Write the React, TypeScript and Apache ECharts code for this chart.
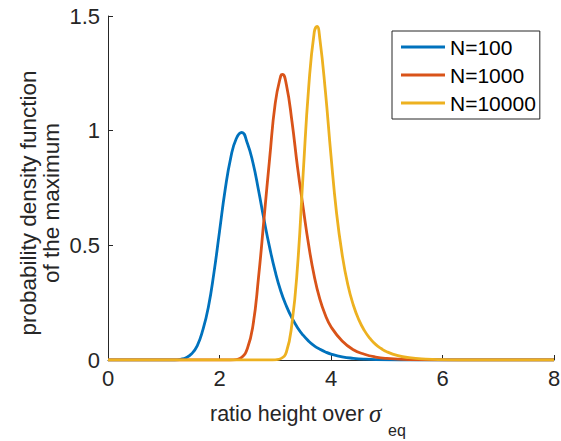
import React, { useEffect, useRef } from "react";
import * as echarts from "echarts";

// Ratio height / sigma_eq sample positions and pdf of the maximum, per N
const ratioN100 = [0, 1.2, 1.3, 1.4, 1.5, 1.6, 1.7, 1.8, 1.9, 2.0, 2.1, 2.2, 2.3, 2.4, 2.5, 2.6, 2.7, 2.8, 2.9, 3.0, 3.1, 3.2, 3.3, 3.4, 3.5, 3.6, 3.7, 3.8, 3.9, 4.0, 4.2, 4.4, 4.6, 5.0, 5.5, 8];
const pdfN100 = [0, 0, 0.003, 0.01, 0.027, 0.062, 0.13, 0.23, 0.38, 0.56, 0.74, 0.88, 0.965, 0.992, 0.945, 0.86, 0.74, 0.61, 0.49, 0.385, 0.3, 0.235, 0.183, 0.141, 0.108, 0.082, 0.062, 0.047, 0.035, 0.026, 0.014, 0.0075, 0.004, 0.001, 0, 0];

const ratioN1000 = [0, 2.2, 2.3, 2.4, 2.5, 2.6, 2.7, 2.8, 2.9, 3.0, 3.1, 3.13, 3.2, 3.3, 3.4, 3.5, 3.6, 3.7, 3.8, 3.9, 4.0, 4.2, 4.4, 4.6, 4.8, 5.0, 5.4, 6.0, 8];
const pdfN1000 = [0, 0, 0.002, 0.012, 0.05, 0.15, 0.36, 0.62, 0.88, 1.12, 1.24, 1.245, 1.2, 1.04, 0.84, 0.665, 0.5, 0.365, 0.265, 0.195, 0.145, 0.083, 0.045, 0.025, 0.013, 0.007, 0.002, 0, 0];

const ratioN10000 = [0, 2.9, 3.0, 3.1, 3.2, 3.3, 3.4, 3.5, 3.6, 3.7, 3.75, 3.8, 3.9, 4.0, 4.1, 4.2, 4.3, 4.4, 4.5, 4.6, 4.7, 4.8, 4.9, 5.0, 5.2, 5.4, 5.7, 6.0, 6.5, 8];
const pdfN10000 = [0, 0, 0.001, 0.006, 0.035, 0.16, 0.41, 0.81, 1.19, 1.43, 1.455, 1.4, 1.17, 0.89, 0.64, 0.46, 0.33, 0.24, 0.175, 0.128, 0.094, 0.068, 0.05, 0.036, 0.019, 0.01, 0.004, 0.0015, 0, 0];

const seriesNames = ["N=100", "N=1000", "N=10000"];
const seriesColors = ["#0072BD", "#D95319", "#EDB120"];

const FONT = "'Liberation Sans', Arial, Helvetica, sans-serif";
const AXIS_COLOR = "#262626";

const pairs = (xs: number[], ys: number[]) => xs.map((x, i) => [x, ys[i]]);

export default function App() {
  const ref = useRef<HTMLDivElement>(null);

  useEffect(() => {
    const chart = echarts.init(ref.current!, null, { renderer: "svg" });
    const curves = [
      pairs(ratioN100, pdfN100),
      pairs(ratioN1000, pdfN1000),
      pairs(ratioN10000, pdfN10000),
    ];
    chart.setOption({
      animation: false,
      backgroundColor: "#ffffff",
      grid: { left: 108, right: 7, top: 16, bottom: 81, containLabel: false, outerBoundsMode: "none" },
      xAxis: {
        type: "value",
        min: 0,
        max: 8,
        interval: 2,
        axisLine: { show: true, lineStyle: { color: AXIS_COLOR, width: 1 } },
        axisTick: { show: true, inside: true, length: 5, lineStyle: { color: AXIS_COLOR } },
        axisLabel: { color: AXIS_COLOR, fontSize: 22, fontFamily: FONT, margin: 7 },
        splitLine: { show: false },
      },
      yAxis: {
        type: "value",
        min: 0,
        max: 1.5,
        interval: 0.5,
        axisLine: { show: true, lineStyle: { color: AXIS_COLOR, width: 1 } },
        axisTick: { show: true, inside: true, length: 5, lineStyle: { color: AXIS_COLOR } },
        axisLabel: { color: AXIS_COLOR, fontSize: 22, fontFamily: FONT, margin: 8 },
        splitLine: { show: false },
      },
      legend: {
        orient: "vertical",
        left: 392,
        top: 31,
        padding: [5, 4, 5, 9],
        itemWidth: 44,
        itemHeight: 2.8,
        itemGap: 6,
        icon: "rect",
        borderColor: AXIS_COLOR,
        borderWidth: 1,
        backgroundColor: "#ffffff",
        data: seriesNames,
        textStyle: { fontSize: 21, fontFamily: FONT, color: "#000000", lineHeight: 22 },
      },
      series: curves.map((data, i) => ({
        name: seriesNames[i],
        type: "line",
        data,
        showSymbol: false,
        smooth: 0.5,
        lineStyle: { color: seriesColors[i], width: 2.8 },
        itemStyle: { color: seriesColors[i] },
      })),
      graphic: [
        {
          type: "text",
          x: 28,
          y: 203,
          rotation: Math.PI / 2,
          style: {
            text: "probability density function",
            fontSize: 22.5,
            fontFamily: FONT,
            fill: AXIS_COLOR,
            align: "center",
            verticalAlign: "middle",
          },
        },
        {
          type: "text",
          x: 51,
          y: 203,
          rotation: Math.PI / 2,
          style: {
            text: "of the maximum",
            fontSize: 22.5,
            fontFamily: FONT,
            fill: AXIS_COLOR,
            align: "center",
            verticalAlign: "middle",
          },
        },
        {
          type: "text",
          x: 210,
          y: 414,
          style: {
            text: "ratio height over",
            fontSize: 21.5,
            fontFamily: FONT,
            fill: AXIS_COLOR,
            align: "left",
            verticalAlign: "middle",
          },
        },
        {
          type: "text",
          x: 369,
          y: 413,
          style: {
            text: "σ",
            fontSize: 25,
            fontStyle: "italic",
            fontFamily: "'Liberation Serif', 'Times New Roman', serif",
            fill: AXIS_COLOR,
            align: "left",
            verticalAlign: "middle",
          },
        },
        {
          type: "text",
          x: 388,
          y: 430,
          style: {
            text: "eq",
            fontSize: 16,
            fontFamily: FONT,
            fill: AXIS_COLOR,
            align: "left",
            verticalAlign: "middle",
          },
        },
      ],
    });
    return () => chart.dispose();
  }, []);

  return (
    <div
      ref={ref}
      style={{ position: "fixed", left: 0, top: 0, width: 561, height: 441, background: "#ffffff" }}
    />
  );
}
